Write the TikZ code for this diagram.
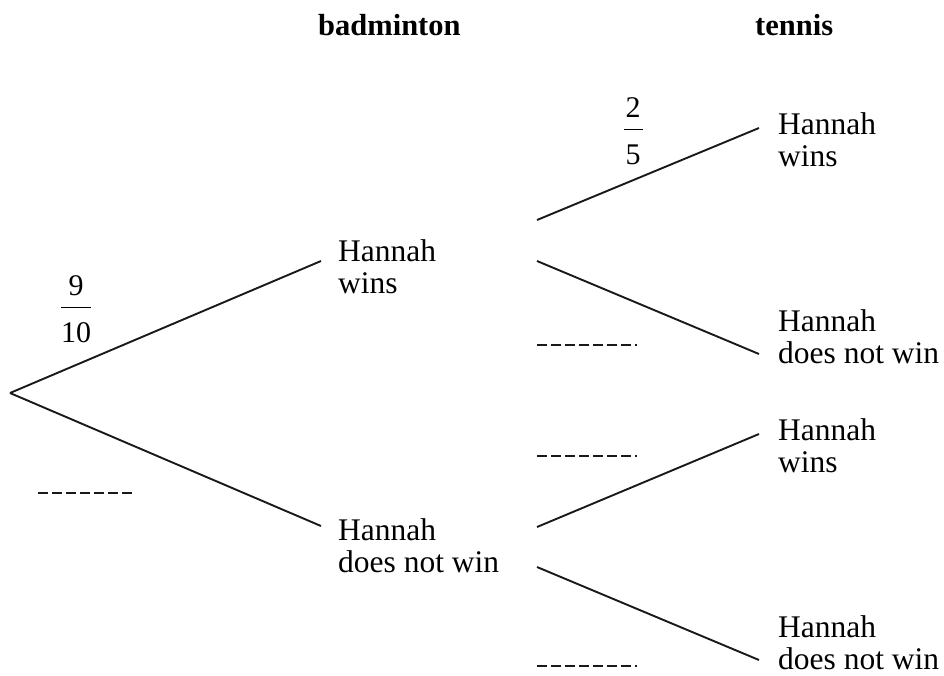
\documentclass[tikz,border=0pt]{standalone}
\usepackage{fontspec}
\setmainfont{Liberation Serif}
\newcommand\fracstack[2]{\vbox{\offinterlineskip\halign{\hfil##\hfil\cr\kern2pt#1\kern2pt\cr\noalign{\vskip11.5pt\hrule height1.3pt\vskip14.5pt}#2\cr}}}
\begin{document}
\begin{tikzpicture}[x=1pt,y=-1pt,
  lbl/.style={anchor=north west,inner sep=0,align=left,font=\fontsize{31.5}{32}\selectfont},
  hdr/.style={anchor=base west,inner sep=0,font=\fontsize{30.5}{36}\selectfont\bfseries},
  branch/.style={line width=1.9pt,black!90},
  blank/.style={line width=1.6pt,dash pattern=on 10pt off 4pt,black!90},
  fracnode/.style={anchor=north,inner sep=0,font=\fontsize{30}{31}\selectfont}]
\useasboundingbox (0,0) rectangle (944,675);
% headers
\node[hdr] (hb) at (318,35) {badminton};
\node[hdr] (ht) at (755,35) {tennis};
% first stage
\coordinate (root) at (10,393);
\coordinate (a1) at (321,261);
\coordinate (a2) at (321,526);
\node[lbl] (bw) at (338,239) {Hannah\\wins};
\node[lbl] (bl) at (338,518) {Hannah\\does not win};
\draw[branch] (root) -- (a1);
\draw[branch] (root) -- (a2);
% second stage
\coordinate (b1s) at (537,220); \coordinate (b1e) at (759,128);
\coordinate (b2s) at (537,261); \coordinate (b2e) at (759,354);
\coordinate (b3s) at (537,527); \coordinate (b3e) at (759,434);
\coordinate (b4s) at (537,567); \coordinate (b4e) at (759,660);
\draw[branch] (b1s) -- (b1e);
\draw[branch] (b2s) -- (b2e);
\draw[branch] (b3s) -- (b3e);
\draw[branch] (b4s) -- (b4e);
\node[lbl] (l1) at (778,112) {Hannah\\wins};
\node[lbl] (l2) at (778,309) {Hannah\\does not win};
\node[lbl] (l3) at (778,418) {Hannah\\wins};
\node[lbl] (l4) at (778,615) {Hannah\\does not win};
% fractions
\node[fracnode] (f1) at (76,275) {\fracstack{9}{10}};
\node[fracnode] (f2) at (633,97) {\fracstack{2}{5}};
% blanks
\coordinate (d1s) at (38,493); \coordinate (d1e) at (135,493);
\coordinate (d2s) at (537,345); \coordinate (d2e) at (637,345);
\coordinate (d3s) at (537,456); \coordinate (d3e) at (637,456);
\coordinate (d4s) at (537,666); \coordinate (d4e) at (637,666);
\draw[blank] (d1s) -- (d1e);
\draw[blank] (d2s) -- (d2e);
\draw[blank] (d3s) -- (d3e);
\draw[blank] (d4s) -- (d4e);
\end{tikzpicture}
\end{document}
